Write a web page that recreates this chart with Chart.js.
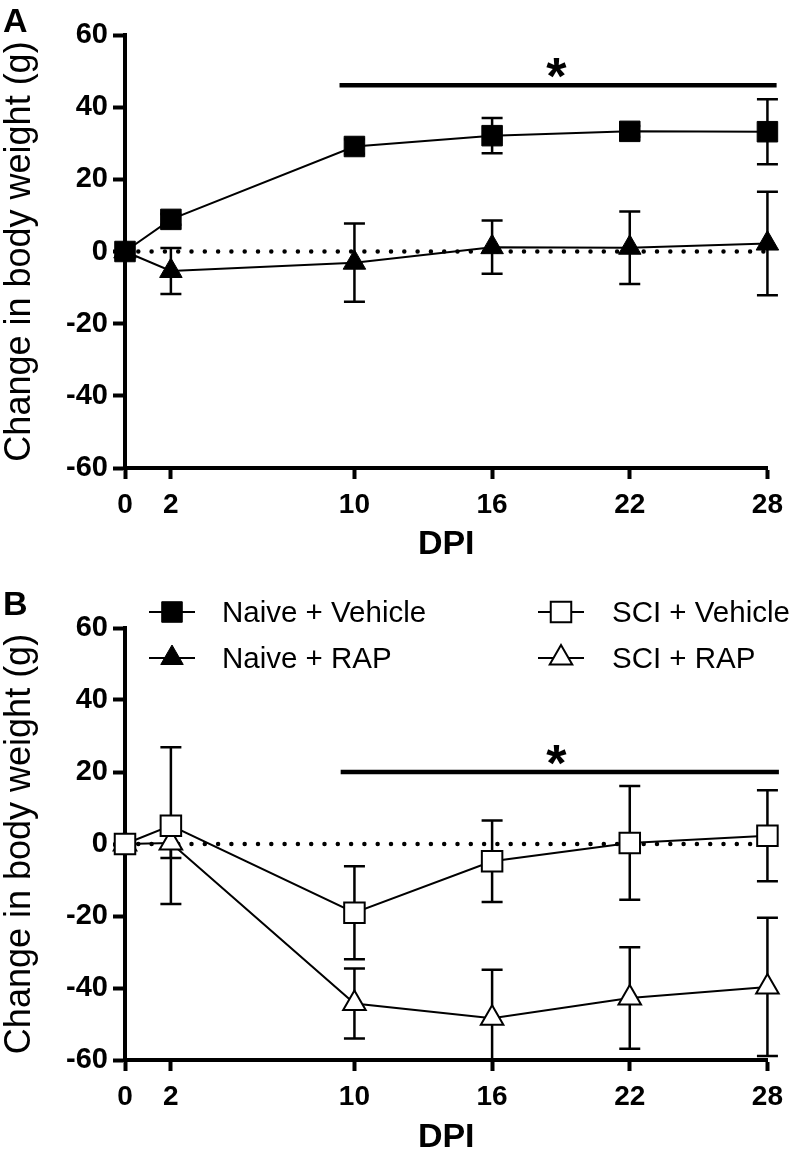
<!DOCTYPE html>
<html>
<head>
<meta charset="utf-8">
<script src="https://cdn.jsdelivr.net/npm/chart.js@4.4.0/dist/chart.umd.min.js"></script>
<style>
  html, body { margin: 0; padding: 0; background: #fff; }
  #wrap { position: relative; width: 792px; height: 1153px; }
  canvas { position: absolute; left: 0; }
  #chartA { top: 0; }
  #chartB { top: 576px; }
</style>
</head>
<body>
<div id="wrap">
  <canvas id="chartA" width="792" height="576"></canvas>
  <canvas id="chartB" width="792" height="577"></canvas>
</div>
<script>
// days post injury
const days = [0, 2, 10, 16, 22, 28];
const xTickValues = [0, 2, 10, 16, 22, 28];
const yTickValues = [-60, -40, -20, 0, 20, 40, 60];

// panel A
const naiveVehicleA = [0, 8.9, 29.1, 32.1, 33.3, 33.2];
const naiveVehicleErrA = [0, 1.5, 2, 4.9, 1.5, 9];
const naiveRapA = [0, -5.4, -3.1, 1.2, 1.05, 2.2];
const naiveRapErrA = [0, 6.4, 10.85, 7.4, 10.05, 14.35];
const sigBarA = [9.35, 28.4];
const sigLevelA = 46.1;
const starA = [18.8, 51.7];

// panel B
const sciVehicleB = [0, 5.1, -19.1, -4.8, 0.3, 2.3];
const sciVehicleErrB = [0, 21.8, 12.9, 11.3, 15.8, 12.65];
const sciRapB = [0, 0.3, -44.3, -48.4, -42.8, -39.7];
const sciRapErrB = [0, 4.2, 9.7, 13.5, 14.1, 19.2];
const sigBarB = [9.4, 28.5];
const sigLevelB = 20;
const starB = [18.8, 25.5];

const legendLabels = ['Naive + Vehicle', 'Naive + RAP', 'SCI + Vehicle', 'SCI + RAP'];

const FONT = "'Liberation Sans', Arial, sans-serif";
Chart.defaults.font.family = FONT;
Chart.defaults.color = '#000';

function pts(vals) {
  return days.map((d, i) => ({ x: d, y: vals[i] }));
}

function series(vals, errs, style, fill, r) {
  return {
    data: pts(vals),
    errors: errs,
    borderColor: '#000',
    borderWidth: 2,
    pointStyle: style,
    pointRadius: r,
    pointBackgroundColor: fill,
    pointBorderColor: '#000',
    pointBorderWidth: fill === '#fff' ? 2 : 1,
    tension: 0,
    clip: false
  };
}

function zeroLine() {
  return {
    data: [{ x: 0, y: 0 }, { x: 28, y: 0 }],
    borderColor: '#000',
    borderWidth: 4.5,
    borderDash: [0, 13.3],
    borderCapStyle: 'round',
    pointRadius: 0,
    clip: false
  };
}

function sigBar(range, level) {
  return {
    data: [{ x: range[0], y: level }, { x: range[1], y: level }],
    borderColor: '#000',
    borderWidth: 4.5,
    pointRadius: 0,
    clip: false
  };
}

const errorBars = {
  id: 'errorBars',
  beforeDatasetsDraw(chart) {
    const { ctx, chartArea, scales: { x, y } } = chart;
    ctx.save();
    ctx.beginPath();
    ctx.rect(0, chartArea.top - 1, chart.width, chartArea.bottom - chartArea.top + 1);
    ctx.clip();
    ctx.strokeStyle = '#000';
    ctx.lineWidth = 2.5;
    chart.data.datasets.forEach(ds => {
      if (!ds.errors) return;
      ds.data.forEach((p, i) => {
        const e = ds.errors[i];
        if (!e) return;
        const px = x.getPixelForValue(p.x);
        const top = y.getPixelForValue(p.y + e);
        const bot = y.getPixelForValue(p.y - e);
        ctx.beginPath();
        ctx.moveTo(px, top); ctx.lineTo(px, bot);
        ctx.moveTo(px - 10.5, top); ctx.lineTo(px + 10.5, top);
        ctx.moveTo(px - 10.5, bot); ctx.lineTo(px + 10.5, bot);
        ctx.stroke();
      });
    });
    ctx.restore();
  }
};

const extras = {
  id: 'extras',
  afterDraw(chart, args, opts) {
    const { ctx, scales: { x, y } } = chart;
    ctx.save();
    ctx.fillStyle = '#000';
    // panel letter
    ctx.font = 'bold 34px ' + FONT;
    ctx.textAlign = 'left';
    ctx.textBaseline = 'alphabetic';
    ctx.fillText(opts.letter, 3, opts.letterY);
    // asterisk
    ctx.font = 'bold 52px ' + FONT;
    ctx.textAlign = 'center';
    ctx.fillText('*', x.getPixelForValue(opts.star[0]), y.getPixelForValue(opts.star[1]) + 29);
    // legend
    if (opts.legend) {
      const items = [
        { style: 'rect', fill: '#000', r: 14.5, cx: 172, row: 36, tx: 222 },
        { style: 'triangle', fill: '#000', r: 13, cx: 172, row: 82, tx: 222 },
        { style: 'rect', fill: '#fff', r: 14.5, cx: 561, row: 36, tx: 612 },
        { style: 'triangle', fill: '#fff', r: 13, cx: 561, row: 82, tx: 612 }
      ];
      items.forEach((it, i) => {
        ctx.strokeStyle = '#000';
        ctx.lineWidth = 2;
        ctx.beginPath();
        ctx.moveTo(it.cx - 23, it.row);
        ctx.lineTo(it.cx + 23, it.row);
        ctx.stroke();
        ctx.fillStyle = it.fill;
        ctx.lineWidth = it.fill === '#fff' ? 2 : 1;
        Chart.helpers.drawPoint(ctx, { pointStyle: it.style, rotation: 0, radius: it.r, borderWidth: ctx.lineWidth }, it.cx, it.row);
        ctx.fillStyle = '#000';
        ctx.font = '29.5px ' + FONT;
        ctx.textAlign = 'left';
        ctx.textBaseline = 'alphabetic';
        ctx.fillText(legendLabels[i], it.tx, it.row + 10);
      });
    }
    ctx.restore();
  }
};

function makeOptions(cfg) {
  return {
    responsive: false,
    animation: false,
    devicePixelRatio: 1,
    layout: { padding: { top: cfg.top, right: cfg.right, left: 0, bottom: 0 } },
    plugins: {
      legend: { display: false },
      tooltip: { enabled: false },
      extras: cfg.extras
    },
    scales: {
      x: {
        type: 'linear',
        min: 0,
        max: 28,
        afterBuildTicks: s => { s.ticks = xTickValues.map(v => ({ value: v })); },
        afterFit: s => { s.height = cfg.xHeight; },
        border: { display: true, color: '#000', width: 4 },
        grid: { display: true, drawOnChartArea: false, drawTicks: true, tickLength: 11, tickWidth: 4, tickColor: '#000' },
        ticks: { font: { size: 28, weight: 'bold' }, color: '#000', padding: 9, maxRotation: 0 },
        title: { display: true, text: 'DPI', color: '#000', font: { size: 34, weight: 'bold', lineHeight: 1 }, padding: { top: 0, bottom: cfg.dpiPad } }
      },
      y: {
        type: 'linear',
        min: -60,
        max: 60,
        afterBuildTicks: s => { s.ticks = yTickValues.map(v => ({ value: v })); },
        afterFit: s => { s.width = 125; },
        border: { display: true, color: '#000', width: 4 },
        grid: { display: true, drawOnChartArea: false, drawTicks: true, tickLength: 12, tickWidth: 4, tickColor: '#000' },
        ticks: { font: { size: 29, weight: 'bold' }, color: '#000', padding: 5 },
        title: { display: true, text: 'Change in body weight (g)', color: '#000', font: { size: 36, weight: 'normal', lineHeight: 1 }, padding: { top: 2, bottom: 0 } }
      }
    }
  };
}

new Chart(document.getElementById('chartA'), {
  type: 'line',
  data: {
    datasets: [
      series(naiveVehicleA, naiveVehicleErrA, 'rect', '#000', 14.5),
      series(naiveRapA, naiveRapErrA, 'triangle', '#000', 13),
      zeroLine(),
      sigBar(sigBarA, sigLevelA)
    ]
  },
  options: makeOptions({ top: 35, right: 19, xHeight: 108, dpiPad: 14.5,
    extras: { letter: 'A', letterY: 32, star: starA, legend: false } }),
  plugins: [errorBars, extras]
});

new Chart(document.getElementById('chartB'), {
  type: 'line',
  data: {
    datasets: [
      series(sciVehicleB, sciVehicleErrB, 'rect', '#fff', 14.5),
      series(sciRapB, sciRapErrB, 'triangle', '#fff', 13),
      zeroLine(),
      sigBar(sigBarB, sigLevelB)
    ]
  },
  options: makeOptions({ top: 52, right: 18, xHeight: 93, dpiPad: -1.5,
    extras: { letter: 'B', letterY: 39, star: starB, legend: true } }),
  plugins: [errorBars, extras]
});
</script>
</body>
</html>
